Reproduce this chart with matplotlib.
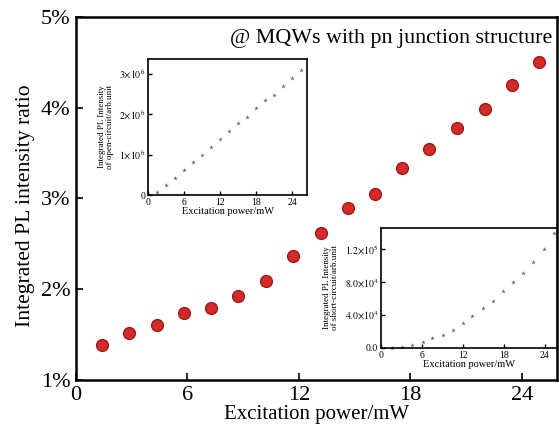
import numpy as np
import matplotlib.pyplot as plt
from matplotlib.ticker import FuncFormatter

plt.rcParams['font.family'] = ['Liberation Serif', 'DejaVu Serif']
plt.rcParams['mathtext.fontset'] = 'stix'

# main panel: PL intensity ratio (%)
power = [1.40, 2.87, 4.35, 5.80, 7.27, 8.74, 10.23, 11.69, 13.17, 14.64,
         16.10, 17.56, 19.03, 20.49, 22.02, 23.48, 24.94]
ratio = [1.39, 1.52, 1.61, 1.74, 1.79, 1.92, 2.09, 2.37, 2.62, 2.90,
         3.05, 3.34, 3.55, 3.78, 3.99, 4.25, 4.50]

# inset 1: open-circuit
oc_power = [1.5, 3.0, 4.5, 6.0, 7.5, 9.0, 10.5, 12.0, 13.5, 15.0,
            16.5, 18.0, 19.5, 21.0, 22.5, 24.0, 25.5]
oc_pl = [0.08e6, 0.25e6, 0.43e6, 0.62e6, 0.82e6, 0.98e6, 1.18e6, 1.38e6, 1.58e6,
         1.77e6, 1.93e6, 2.14e6, 2.34e6, 2.48e6, 2.69e6, 2.88e6, 3.09e6]

# inset 2: short-circuit
sc_power = [1.6, 3.1, 4.6, 6.1, 7.5, 9.1, 10.5, 12.0, 13.4, 14.9,
            16.4, 17.9, 19.4, 20.8, 22.3, 23.9, 25.3]
sc_pl = [0.0, 0.08e4, 0.4e4, 0.76e4, 1.16e4, 1.64e4, 2.2e4, 3.04e4, 3.92e4,
         4.88e4, 5.68e4, 6.96e4, 8.08e4, 9.16e4, 10.5e4, 12.1e4, 13.97e4]

fig = plt.figure(figsize=(5.59, 4.30), dpi=100)
ax = fig.add_axes([0.136, 0.1163, 0.8604, 0.8442])
ax.plot(power, ratio, 'o', color='#d42a2a', mec='#9e1a1a', mew=1.0, ms=8.5)
ax.set_xlim(0, 25.9)
ax.set_ylim(1, 5)
ax.set_xticks([0, 6, 12, 18, 24])
ax.set_yticks([1, 2, 3, 4, 5])
ax.yaxis.set_major_formatter(FuncFormatter(lambda v, p: '%d%%' % v))
ax.tick_params(direction='in', labelsize=16, length=5, width=1.2, pad=4)
for s in ax.spines.values():
    s.set_linewidth(1.8)
ax.set_xlabel('Excitation power/mW', fontsize=15, labelpad=0)
ax.set_ylabel('Integrated PL intensity ratio', fontsize=15.6, labelpad=4)
ax.yaxis.set_label_coords(-0.085, 0.48)
ax.text(0.99, 0.94, '@ MQWs with pn junction structure', transform=ax.transAxes,
        ha='right', va='center', fontsize=15.8)


def inset(rect, x, y, xlim, ylim, yticks, ylabels, ylabel):
    a = fig.add_axes(rect)
    a.plot(x, y, '*', color='#707070', ms=3.5, mew=0, clip_on=False)
    a.set_xlim(*xlim)
    a.set_ylim(*ylim)
    a.set_xticks([0, 6, 12, 18, 24])
    a.set_yticks(yticks)
    a.set_yticklabels(ylabels)
    a.tick_params(direction='in', labelsize=7, length=3, width=1, pad=2)
    for s in a.spines.values():
        s.set_linewidth(1.2)
    a.set_xlabel('Excitation power/mW', fontsize=7.5, labelpad=0)
    a.set_ylabel(ylabel, fontsize=6.5, labelpad=4, linespacing=1.0)
    return a


inset([0.2648, 0.5465, 0.2844, 0.3163], oc_power, oc_pl, (0, 26.5), (0, 3.36e6),
      [0, 1e6, 2e6, 3e6],
      ['0', r'$1{\times}10^6$', r'$2{\times}10^6$', r'$3{\times}10^6$'],
      'Integrated PL Intensity\nof open-circuit/arb.unit')

inset([0.6816, 0.1907, 0.3149, 0.279], sc_power, sc_pl, (0, 25.8), (0, 1.46e5),
      [0, 4e4, 8e4, 1.2e5],
      ['0.0', r'$4.0{\times}10^4$', r'$8.0{\times}10^4$', r'$1.2{\times}10^5$'],
      'Integrated PL Intensity\nof short-circuit/arb.unit')

fig.savefig('out.png', dpi=100)
